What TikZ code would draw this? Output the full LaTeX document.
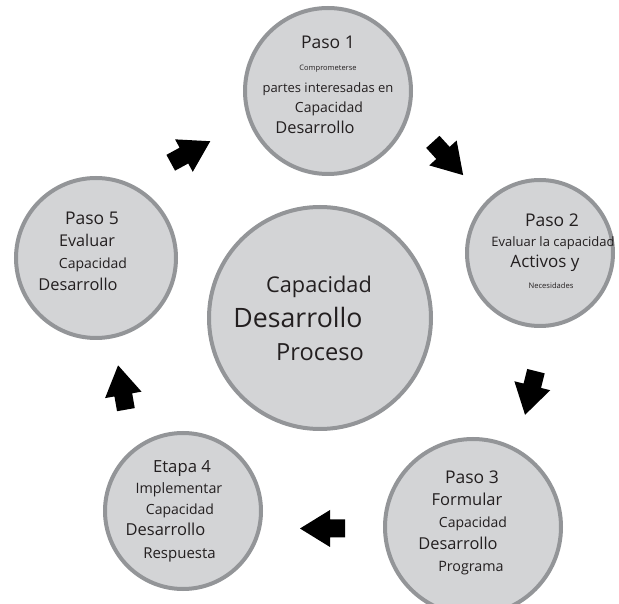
\documentclass[tikz,border=0pt]{standalone}
\usepackage{fontspec}
\setmainfont{Open Sans}
\definecolor{ringgray}{HTML}{939598}
\definecolor{discfill}{HTML}{D3D4D6}
\definecolor{inkdark}{HTML}{231F20}
\tikzset{
  disc/.style={circle, draw=ringgray, line width=4pt, fill=discfill, inner sep=0pt, minimum size=#1},
  txt/.style={anchor=base, inner sep=0pt, text=inkdark, font=\fontsize{#1}{#1}\selectfont},
  blockarrow/.pic={
    \fill[black] (-22.5,-9) -- (-7.5,-9) -- (-7.5,-18.5) -- (22.5,0)
      -- (-7.5,18.5) -- (-7.5,9) -- (-22.5,9) -- cycle;
  }
}
\begin{document}
\begin{tikzpicture}[x=1pt,y=1pt]
\useasboundingbox (0,0) rectangle (619,603);

% discs
\node[disc=166] (s1) at (328,512) {};
\node[disc=146] (s2) at (540,350) {};
\node[disc=176] (s3) at (473,76) {};
\node[disc=156] (s4) at (183,92) {};
\node[disc=160] (s5) at (96,345) {};
\node[disc=222] (core) at (320,285) {};

% step 1
\node[txt=17.5] (s1a) at (328,554) {Paso 1};
\node[txt=7.5]  (s1b) at (328,532) {Comprometerse};
\node[txt=13]   (s1c) at (328,510) {partes interesadas en};
\node[txt=14]   (s1d) at (329,490) {Capacidad};
\node[txt=16.4] (s1e) at (315,469) {Desarrollo};

% step 2
\node[txt=17.5] (s2a) at (552,376) {Paso 2};
\node[txt=13]   (s2b) at (553,356) {Evaluar la capacidad};
\node[txt=17]   (s2c) at (545,335) {Activos y};
\node[txt=7.6]  (s2d) at (551,314) {Necesidades};

% step 3
\node[txt=17.5] (s3a) at (472,119) {Paso 3};
\node[txt=16.5] (s3b) at (467,97) {Formular};
\node[txt=14]   (s3c) at (473,75) {Capacidad};
\node[txt=16.4] (s3d) at (458,53) {Desarrollo};
\node[txt=14.3] (s3e) at (471,31) {Programa};

% stage 4
\node[txt=16.7] (s4a) at (182,130) {Etapa 4};
\node[txt=14.3] (s4b) at (179,109) {Implementar};
\node[txt=14]   (s4c) at (180,88) {Capacidad};
\node[txt=16.5] (s4d) at (165.5,67) {Desarrollo};
\node[txt=15]   (s4e) at (179.5,45) {Respuesta};

% step 5
\node[txt=17.5] (s5a) at (92,378) {Paso 5};
\node[txt=16.2] (s5b) at (87,356) {Evaluar};
\node[txt=14]   (s5c) at (93,334) {Capacidad};
\node[txt=16.4] (s5d) at (78,312) {Desarrollo};

% centre
\node[txt=21.7] (c1) at (319,310) {Capacidad};
\node[txt=26.7] (c2) at (298,275) {Desarrollo};
\node[txt=23.6] (c3) at (320,242) {Proceso};

% block arrows between steps
\coordinate (a51) at (190.5,451);
\coordinate (a12) at (448,444.5);
\coordinate (a23) at (530.5,210);
\coordinate (a34) at (322.5,74.5);
\coordinate (a45) at (122,215.5);
\pic[rotate=28.6]  at (a51) {blockarrow};
\pic[rotate=-47.7] at (a12) {blockarrow};
\pic[rotate=-104]  at (a23) {blockarrow};
\pic[rotate=180]   at (a34) {blockarrow};
\pic[rotate=100]   at (a45) {blockarrow};
\end{tikzpicture}
\end{document}
